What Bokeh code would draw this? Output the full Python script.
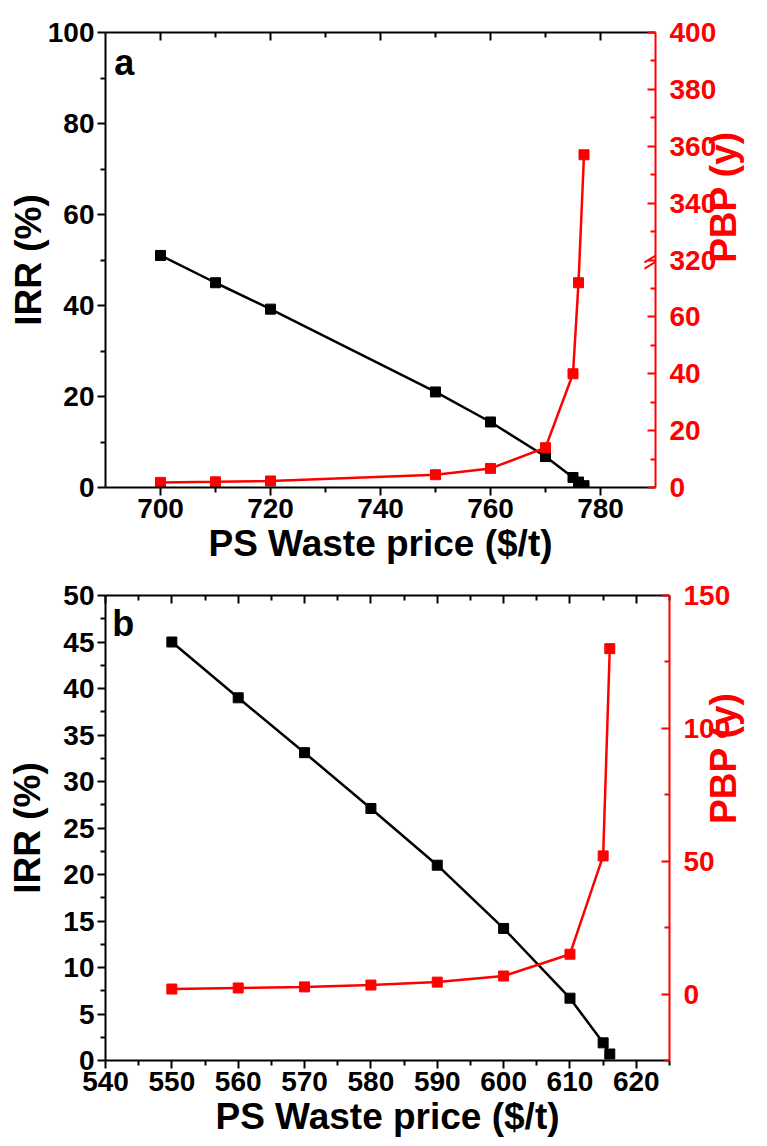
import math

from bokeh.plotting import figure
from bokeh.models import LinearAxis, Range1d, FixedTicker, Label, Arrow
from bokeh.embed import file_html
from bokeh.resources import INLINE

FONT = "Liberation Sans"
RED = "#ff0000"

# ---- panel a data ----
price_a = [700, 710, 720, 750, 760, 770, 775, 776, 777]
irr_a = [51.0, 45.0, 39.2, 21.0, 14.4, 6.8, 2.2, 1.2, 0.4]
pbp_a = [1.8, 2.0, 2.3, 4.5, 6.7, 14.0, 40.0, 72.0, 357.0]

# ---- panel b data ----
price_b = [550, 560, 570, 580, 590, 600, 610, 615, 616]
irr_b = [45.0, 39.0, 33.1, 27.1, 21.0, 14.2, 6.7, 1.9, 0.7]
pbp_b = [1.9, 2.3, 2.7, 3.4, 4.5, 6.8, 15.0, 52.0, 130.0]

# broken PBP axis in panel a: 0-80 below the break, 320-400 above it
BREAK_LO, BREAK_HI = 80, 320
GAP = BREAK_HI - BREAK_LO


def to_broken(v):
    return v if v <= BREAK_LO else v - GAP


pbp_a_plot = [to_broken(v) for v in pbp_a]


def style_axis(ax, color, tick_in=False, labels=True, label_size="28px"):
    ax.axis_line_color = color
    ax.axis_line_width = 2
    ax.major_tick_line_color = color
    ax.minor_tick_line_color = color
    ax.major_tick_line_width = 2
    ax.minor_tick_line_width = 2
    if tick_in:
        ax.major_tick_in, ax.major_tick_out = 8, 0
        ax.minor_tick_in, ax.minor_tick_out = 5, 0
    else:
        ax.major_tick_in, ax.major_tick_out = 0, 8
        ax.minor_tick_in, ax.minor_tick_out = 0, 5
    ax.major_label_text_font = FONT
    ax.major_label_text_font_style = "bold"
    ax.major_label_text_font_size = label_size if labels else "0px"
    ax.major_label_text_color = color
    ax.major_label_standoff = 3
    ax.axis_label_text_font = FONT
    ax.axis_label_text_font_style = "bold"
    ax.axis_label_text_font_size = "37px"
    ax.axis_label_text_color = color


def make_panel(xr, yr, pr, xt, xm, yt, ym, pt, pm, overrides, height, borders,
               left_standoff, pbp_title_at, pbp_title_standoff):
    left, right, top, bottom = borders
    p = figure(width=767, height=height, x_range=Range1d(*xr), y_range=Range1d(*yr),
               output_backend="svg", toolbar_location=None,
               min_border_left=left, min_border_right=right,
               min_border_top=top, min_border_bottom=bottom)
    p.outline_line_color = None
    p.grid.visible = False
    p.background_fill_color = "white"
    p.extra_y_ranges = {"pbp": Range1d(*pr)}

    xa = p.xaxis[0]
    xa.ticker = FixedTicker(ticks=xt, minor_ticks=xm)
    xa.axis_label = "PS Waste price ($/t)"
    style_axis(xa, "black")
    xa.axis_label_standoff = 2

    ya = p.yaxis[0]
    ya.ticker = FixedTicker(ticks=yt, minor_ticks=ym)
    ya.axis_label = "IRR (%)"
    style_axis(ya, "black")
    ya.axis_label_standoff = left_standoff

    top_ax = LinearAxis(ticker=FixedTicker(ticks=xt, minor_ticks=xm))
    style_axis(top_ax, "black", tick_in=True, labels=False)
    top_ax.major_label_overrides = {t: "" for t in xt}
    p.add_layout(top_ax, "above")

    ra = LinearAxis(y_range_name="pbp", ticker=FixedTicker(ticks=pt, minor_ticks=pm))
    style_axis(ra, RED, tick_in=True)
    ra.major_label_overrides = overrides
    ra.major_label_standoff = 14
    p.add_layout(ra, "right")

    # PBP title, reading bottom to top, carried by a bare outer axis
    title_ax = LinearAxis(y_range_name="pbp", ticker=FixedTicker(ticks=[pbp_title_at], minor_ticks=[]))
    title_ax.axis_line_color = None
    title_ax.major_tick_line_color = None
    title_ax.minor_tick_line_color = None
    title_ax.major_tick_in = title_ax.major_tick_out = 0
    title_ax.minor_tick_in = title_ax.minor_tick_out = 0
    title_ax.major_label_overrides = {pbp_title_at: "PBP (y)"}
    title_ax.major_label_orientation = math.pi / 2
    title_ax.major_label_standoff = pbp_title_standoff
    title_ax.major_label_text_font = FONT
    title_ax.major_label_text_font_style = "bold"
    title_ax.major_label_text_font_size = "37px"
    title_ax.major_label_text_color = RED
    p.add_layout(title_ax, "right")
    return p


# ---------------- panel a ----------------
pa = make_panel((690, 790), (0, 100), (0, 160),
                [700, 720, 740, 760, 780], [710, 730, 750, 770],
                [0, 20, 40, 60, 80, 100], [10, 30, 50, 70, 90],
                [0, 20, 40, 60, 80, 100, 120, 140, 160],
                [10, 30, 50, 70, 90, 110, 130, 150],
                {80: "320", 100: "340", 120: "360", 140: "380", 160: "400"},
                570, (105, 102, 32, 83), -4, 79, 4)

pa.line(price_a, irr_a, line_color="black", line_width=2.5)
pa.scatter(price_a, irr_a, marker="square", size=10, color="black")
pa.line(price_a, pbp_a_plot, y_range_name="pbp", line_color=RED, line_width=2.5)
pa.scatter(price_a, pbp_a_plot, y_range_name="pbp", marker="square", size=10, color=RED)

# break marks on the PBP axis
for dy in (0.0, 2.2):
    pa.add_layout(Arrow(x_start=788.0, y_start=BREAK_LO - 3.0 + dy,
                        x_end=791.3, y_end=BREAK_LO + 0.8 + dy,
                        y_range_name="pbp", end=None, start=None,
                        line_color=RED, line_width=2))

pa.add_layout(Label(x=691.6, y=93.5, text="a", text_font=FONT, text_font_style="bold",
                    text_font_size="36px", text_baseline="middle", text_color="black"))

# ---------------- panel b ----------------
pb = make_panel((540, 625), (0, 50), (-25, 150),
                list(range(540, 621, 10)), list(range(545, 626, 10)),
                list(range(0, 51, 5)), [2.5 + 5 * i for i in range(10)],
                [0, 50, 100, 150], [-25, 25, 75, 125],
                {},
                576, (105, 90, 25, 86), 12, 64, -10)

pb.line(price_b, irr_b, line_color="black", line_width=2.5)
pb.scatter(price_b, irr_b, marker="square", size=10, color="black")
pb.line(price_b, pbp_b, y_range_name="pbp", line_color=RED, line_width=2.5)
pb.scatter(price_b, pbp_b, y_range_name="pbp", marker="square", size=10, color=RED)

pb.add_layout(Label(x=541.0, y=47.0, text="b", text_font=FONT, text_font_style="bold",
                    text_font_size="36px", text_baseline="middle", text_color="black"))

# the two panels are separate roots, stacked one above the other
open("out.html", "w").write(file_html([pa, pb], INLINE))
